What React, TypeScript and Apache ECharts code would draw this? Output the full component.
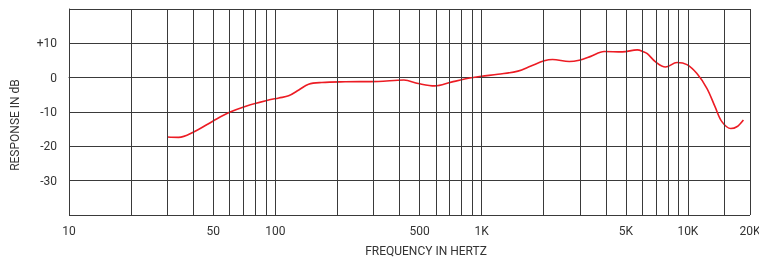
import React, { useEffect, useRef } from "react";
import * as echarts from "echarts";

const freqs = [30, 34, 40, 50, 60, 72, 90, 104, 116, 130, 145, 168, 218, 316, 420, 493, 593, 713, 891, 1000, 1200, 1500, 1735, 2012, 2206, 2660, 2973, 3381, 3926, 4811, 5680, 6120, 6355, 6970, 7783, 8858, 9900, 11060, 12360, 13550, 14610, 16140, 17260, 18580];
const responseDb = [-17.3, -17.4, -15.9, -12.6, -10.1, -8.3, -6.7, -5.9, -5.3, -3.6, -1.9, -1.4, -1.2, -1.1, -0.7, -1.7, -2.4, -1.3, -0.05, 0.4, 1.0, 1.9, 3.4, 4.9, 5.3, 4.7, 5.1, 6.2, 7.6, 7.5, 8.1, 7.5, 7.0, 4.6, 3.1, 4.4, 3.8, 1.2, -3.1, -8.5, -12.8, -14.8, -14.3, -12.3];
const gridFreqs = [10, 20, 30, 40, 50, 60, 70, 80, 90, 100, 200, 300, 400, 500, 600, 700, 800, 900, 1000, 2000, 3000, 4000, 5000, 6000, 7000, 8000, 9000, 10000, 15000, 20000];
const xTickLabels = [10, 50, 100, 500, 1000, 5000, 10000, 20000];
const yTickLabels = [10, 0, -10, -20, -30];
const xName = "FREQUENCY IN HERTZ";
const yName = "RESPONSE IN dB";

const FONT = "Roboto, 'Noto Sans', sans-serif";
const TEXT = "#333";
const GRIDC = "#3a3a3a";

export default function App() {
  const ref = useRef<HTMLDivElement>(null);
  useEffect(() => {
    if (!ref.current) return;
    const chart = echarts.init(ref.current, undefined, { renderer: "svg" });
    const fmtX = (v: number) => (v >= 1000 ? v / 1000 + "K" : String(v));
    chart.setOption({
      animation: false,
      grid: {
        left: 69,
        right: 9,
        top: 9,
        bottom: 45,
        containLabel: false,
        outerBoundsMode: "none",
      },
      xAxis: {
        type: "log",
        logBase: 10,
        min: 10,
        max: 20000,
        axisLine: { show: true, lineStyle: { color: GRIDC, width: 1 } },
        axisTick: { show: false },
        splitLine: { show: false },
        minorSplitLine: { show: false },
        axisLabel: {
          customValues: xTickLabels,
          formatter: (v: number) => fmtX(Math.round(v)),
          color: TEXT,
          fontFamily: FONT,
          fontSize: 12,
          margin: 10,
          showMinLabel: true,
          showMaxLabel: true,
        },
      },
      yAxis: {
        type: "value",
        min: -40,
        max: 20,
        interval: 10,
        axisLine: { show: true, lineStyle: { color: GRIDC, width: 1 } },
        axisTick: { show: false },
        splitLine: { show: true, lineStyle: { color: GRIDC, width: 1 } },
        axisLabel: {
          color: TEXT,
          fontFamily: FONT,
          fontSize: 12,
          margin: 12,
          formatter: (v: number) =>
            yTickLabels.indexOf(v) < 0 ? "" : v > 0 ? "+" + v : String(v),
        },
      },
      graphic: [
        {
          type: "text",
          x: 15,
          y: 125,
          rotation: Math.PI / 2,
          style: {
            text: yName,
            fill: TEXT,
            font: `12px ${FONT}`,
            textAlign: "center",
            textVerticalAlign: "middle",
          },
        },
        {
          type: "text",
          x: 426,
          y: 251,
          style: {
            text: xName,
            fill: TEXT,
            font: `12px ${FONT}`,
            textAlign: "center",
            textVerticalAlign: "middle",
          },
        },
      ],
      series: [
        {
          type: "line",
          data: [],
          z: 1,
          silent: true,
          markLine: {
            silent: true,
            symbol: ["none", "none"],
            label: { show: false },
            lineStyle: { color: GRIDC, width: 1, type: "solid" },
            data: gridFreqs.map((f) => ({ xAxis: f })),
          },
        },
        {
          type: "line",
          z: 3,
          data: freqs.map((f, i) => [f, responseDb[i]]),
          smooth: 0.35,
          showSymbol: false,
          symbol: "none",
          lineStyle: { color: "#ec1c24", width: 1.6 },
        },
      ],
    });
    return () => chart.dispose();
  }, []);
  return (
    <div
      ref={ref}
      style={{ position: "fixed", left: 0, top: 0, width: 759, height: 260 }}
    />
  );
}
